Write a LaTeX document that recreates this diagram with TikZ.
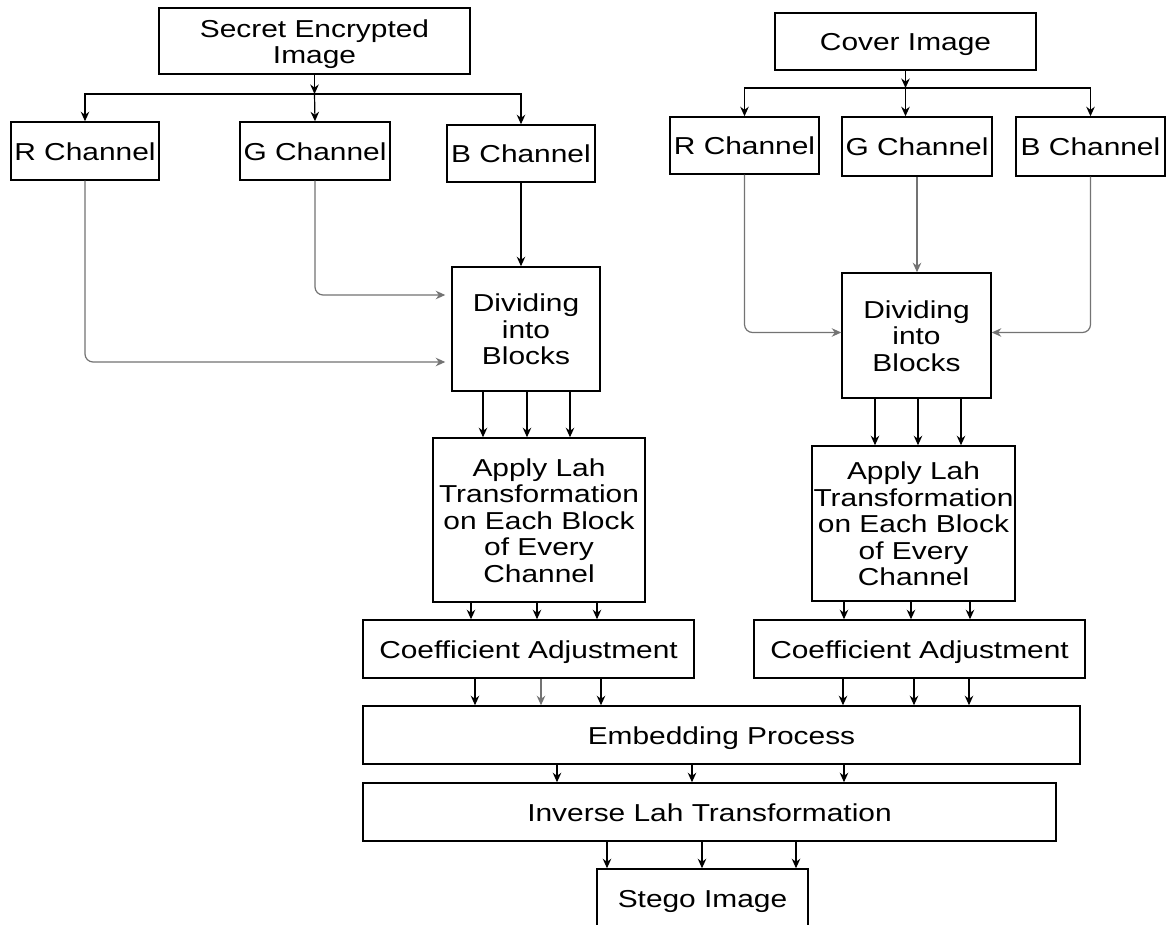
\documentclass[tikz,border=0pt]{standalone}
\usepackage{fontspec}
\setmainfont{Liberation Sans}
\usepackage{graphicx}
\usetikzlibrary{arrows.meta}
\newcommand\tx[1]{\raisebox{-4pt}[\height][\depth]{\scalebox{1.22}[1]{\begin{tabular}{@{}c@{}}#1\end{tabular}}}}
\begin{document}
\begin{tikzpicture}[x=1pt,y=-1pt,
  box/.style={draw,line width=1.5pt,inner sep=0pt,font=\fontsize{24.5}{26.4}\selectfont},
  arr/.style={-{Stealth[length=9.5pt,width=8.5pt]},line width=1.2pt},
  arrg/.style={arr,draw=black!55,rounded corners=8pt}]
\useasboundingbox (0,0) rectangle (1167,925);
\fill[white] (0,0) rectangle (1167,925);
\clip (0,0) rectangle (1167,925);
% boxes
\node[box,minimum width=311,minimum height=66] (sec) at (314.5,41) {\tx{Secret Encrypted\\Image}};
\node[box,minimum width=261,minimum height=57] (cov) at (905.5,41.5) {\tx{Cover Image}};
\node[box,minimum width=148,minimum height=58] (rL) at (85,151) {\tx{R Channel}};
\node[box,minimum width=150,minimum height=58] (gL) at (315,151) {\tx{G Channel}};
\node[box,minimum width=148,minimum height=57] (bL) at (521,153.5) {\tx{B Channel}};
\node[box,minimum width=148,minimum height=124] (divL) at (526,329) {\tx{Dividing\\into\\Blocks}};
\node[box,minimum width=149,minimum height=57] (rR) at (744.5,145.5) {\tx{R Channel}};
\node[box,minimum width=150,minimum height=59] (gR) at (917,146.5) {\tx{G Channel}};
\node[box,minimum width=149,minimum height=59] (bR) at (1090.5,146.5) {\tx{B Channel}};
\node[box,minimum width=149,minimum height=125] (divR) at (916.5,335.5) {\tx{Dividing\\into\\Blocks}};
\node[box,minimum width=212,minimum height=164] (appL) at (539,520) {\tx{Apply Lah\\Transformation\\on Each Block\\of Every\\Channel}};
\node[box,minimum width=203,minimum height=155] (appR) at (913.5,523.5) {\tx{Apply Lah\\Transformation\\on Each Block\\of Every\\Channel}};
\node[box,minimum width=331,minimum height=58] (coefL) at (528.5,649) {\tx{Coefficient Adjustment}};
\node[box,minimum width=331,minimum height=58] (coefR) at (919.5,649) {\tx{Coefficient Adjustment}};
\node[box,minimum width=717,minimum height=58] (emb) at (721.5,735) {\tx{Embedding Process}};
\node[box,minimum width=693,minimum height=58] (inv) at (709.5,812) {\tx{Inverse Lah Transformation}};
\node[box,minimum width=211,minimum height=58] (stego) at (702.5,898) {\tx{Stego Image}};
% left fan-out
\coordinate (jL) at (314.5,94);
\draw[arr] (sec.south) -- (jL);
\draw[arr] (jL) -| (rL.north);
\draw[arr] (jL) -- (gL.north);
\draw[arr] (jL) -| (bL.north);
% right fan-out
\coordinate (jR) at (905.5,88);
\draw[arr] (cov.south) -- (jR);
\draw[arr] (jR) -| (rR.north);
\draw[arr] (jR) -- (jR |- gR.north);
\draw[arr] (jR) -| (bR.north);
% channels to dividing (left)
\draw[arr] (bL.south) -- (bL.south |- divL.north);
\draw[arrg,shorten >=6pt] (gL.south) |- ([yshift=34pt]divL.west);
\draw[arrg,shorten >=6pt] (rL.south) |- ([yshift=-33pt]divL.west);
% channels to dividing (right)
\draw[arr,draw=black!55] (gR.south) -- (gR.south |- divR.north);
\draw[arrg] (rR.south) |- ([yshift=3pt]divR.west);
\draw[arrg] (bR.south) |- ([yshift=3pt]divR.east);
% parallel arrows
\foreach \x in {483,527,570} {\coordinate (t) at (\x,0); \draw[arr] (divL.south -| t) -- (appL.north -| t);}
\foreach \x in {875,918,961} {\coordinate (t) at (\x,0); \draw[arr] (divR.south -| t) -- (appR.north -| t);}
\foreach \x in {471,537,597} {\coordinate (t) at (\x,0); \draw[arr] (appL.south -| t) -- (coefL.north -| t);}
\foreach \x in {844,911,970} {\coordinate (t) at (\x,0); \draw[arr] (appR.south -| t) -- (coefR.north -| t);}
\foreach \x in {475,601} {\coordinate (t) at (\x,0); \draw[arr] (coefL.south -| t) -- (emb.north -| t);}
\coordinate (tg) at (541,0); \draw[arr,draw=black!55] (coefL.south -| tg) -- (emb.north -| tg);
\foreach \x in {843,914,969} {\coordinate (t) at (\x,0); \draw[arr] (coefR.south -| t) -- (emb.north -| t);}
\foreach \x in {557,692,844} {\coordinate (t) at (\x,0); \draw[arr] (emb.south -| t) -- (inv.north -| t);}
\foreach \x in {607,702,796} {\coordinate (t) at (\x,0); \draw[arr] (inv.south -| t) -- (stego.north -| t);}
\end{tikzpicture}
\end{document}
